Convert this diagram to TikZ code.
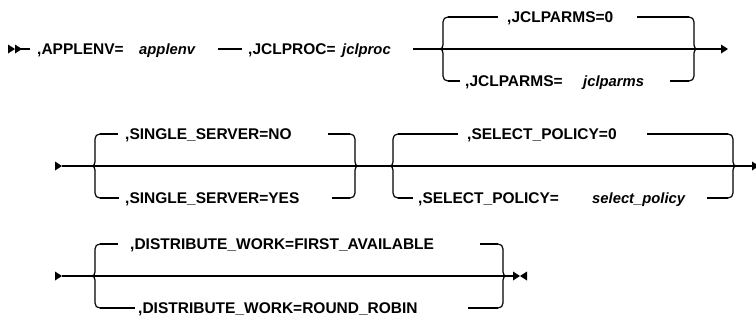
\documentclass[tikz,border=0pt]{standalone}
\usepackage{fontspec}
\setmainfont{Liberation Sans}
\begin{document}
\begin{tikzpicture}[x=1pt,y=-1pt,
  rail/.style={line width=1.2pt},
  kw/.style={anchor=base west,inner sep=0pt,font=\fontsize{15.5}{18}\selectfont\bfseries},
  var/.style={kw,font=\fontsize{14.8}{18}\selectfont\bfseries\itshape}]
\useasboundingbox (0,0) rectangle (756,327);
% ---------- helpers ----------
\newcommand{\leftbrk}[4]{% #1 cusp x, #2 top, #3 main, #4 bottom
  \draw[rail] (#1+8,#2) .. controls (#1+5,#2) and (#1+3,#2+2) .. (#1+3,#2+5)
    -- (#1+3,#3-4) .. controls (#1+3,#3-1.5) and (#1+1.5,#3) .. (#1,#3)
    .. controls (#1+1.5,#3) and (#1+3,#3+1.5) .. (#1+3,#3+4)
    -- (#1+3,#4-5) .. controls (#1+3,#4-2) and (#1+5,#4) .. (#1+8,#4);}
\newcommand{\rightbrk}[4]{% #1 cusp x
  \draw[rail] (#1-8,#2) .. controls (#1-5,#2) and (#1-3,#2+2) .. (#1-3,#2+5)
    -- (#1-3,#3-4) .. controls (#1-3,#3-1.5) and (#1-1.5,#3) .. (#1,#3)
    .. controls (#1-1.5,#3) and (#1-3,#3+1.5) .. (#1-3,#3+4)
    -- (#1-3,#4-5) .. controls (#1-3,#4-2) and (#1-5,#4) .. (#1-8,#4);}
\newcommand{\rtri}[2]{\fill (#1,#2-4.5) -- (#1+7,#2) -- (#1,#2+4.5) -- cycle;}
\newcommand{\ltri}[2]{\fill (#1,#2-4.5) -- (#1-7,#2) -- (#1,#2+4.5) -- cycle;}
% ================= Row 1 =================
\rtri{8}{49}\rtri{15}{49}
\coordinate (s1) at (15,49);
\coordinate (s1e) at (30,49);
\draw[rail] (s1) -- (s1e);
\node[kw]  (applenvk) at (37,54.6) {,APPLENV=};
\node[var] (applenvv) at (139,54.6) {applenv};
\coordinate (a1) at (218,49);
\coordinate (a2) at (242,49);
\draw[rail] (a1) -- (a2);
\node[kw]  (jclprock) at (248,54.6) {,JCLPROC=};
\node[var] (jclprocv) at (342,54.6) {jclproc};
\coordinate (b1) at (413,49);
\coordinate (L1) at (440,49);
\coordinate (R1) at (697,49);
\coordinate (E1) at (721,49);
\draw[rail] (b1) -- (L1) -- (R1) -- (E1);
\rtri{721}{49}
\leftbrk{440}{17}{49}{81}
\rightbrk{697}{17}{49}{81}
\coordinate (u1a) at (448,17); \coordinate (u1b) at (498,17);
\coordinate (u1c) at (637,17); \coordinate (u1d) at (689,17);
\draw[rail] (u1a) -- (u1b); \draw[rail] (u1c) -- (u1d);
\node[kw] (jp0) at (507,22.6) {,JCLPARMS=0};
\coordinate (d1a) at (448,81); \coordinate (d1b) at (460,81);
\coordinate (d1c) at (670,81); \coordinate (d1d) at (689,81);
\draw[rail] (d1a) -- (d1b); \draw[rail] (d1c) -- (d1d);
\node[kw]  (jpk) at (465,86.6) {,JCLPARMS=};
\node[var] (jpv) at (583,86.6) {jclparms};
% ================= Row 2 =================
\rtri{55}{166}
\coordinate (s2) at (62,166);
\coordinate (L2) at (92,166);
\coordinate (R2) at (358,166);
\coordinate (L3) at (390,166);
\coordinate (R3) at (736,166);
\coordinate (E2) at (752,166);
\draw[rail] (s2) -- (L2) -- (R2) -- (L3) -- (R3) -- (E2);
\rtri{752}{166}
\leftbrk{92}{134}{166}{198}
\rightbrk{358}{134}{166}{198}
\coordinate (u2a) at (100,134); \coordinate (u2b) at (118,134);
\coordinate (u2c) at (328,134); \coordinate (u2d) at (350,134);
\draw[rail] (u2a) -- (u2b); \draw[rail] (u2c) -- (u2d);
\node[kw] (ssno) at (125,139.6) {,SINGLE\_SERVER=NO};
\coordinate (d2a) at (100,198); \coordinate (d2b) at (119,198);
\coordinate (d2c) at (332,198); \coordinate (d2d) at (350,198);
\draw[rail] (d2a) -- (d2b); \draw[rail] (d2c) -- (d2d);
\node[kw] (ssyes) at (125,203.6) {,SINGLE\_SERVER=YES};
\leftbrk{390}{134}{166}{198}
\rightbrk{736}{134}{166}{198}
\coordinate (u3a) at (398,134); \coordinate (u3b) at (458,134);
\coordinate (u3c) at (647,134); \coordinate (u3d) at (728,134);
\draw[rail] (u3a) -- (u3b); \draw[rail] (u3c) -- (u3d);
\node[kw] (sp0) at (467,139.6) {,SELECT\_POLICY=0};
\coordinate (d3a) at (398,198); \coordinate (d3b) at (413,198);
\coordinate (d3c) at (707,198); \coordinate (d3d) at (728,198);
\draw[rail] (d3a) -- (d3b); \draw[rail] (d3c) -- (d3d);
\node[kw]  (spk) at (418,203.6) {,SELECT\_POLICY=};
\node[var] (spv) at (592,203.6) {select\_policy};
% ================= Row 3 =================
\rtri{55}{276}
\coordinate (s3) at (62,276);
\coordinate (L4) at (92,276);
\coordinate (R4) at (506,276);
\coordinate (E3) at (513,276);
\draw[rail] (s3) -- (L4) -- (R4) -- (E3);
\rtri{513}{276}\ltri{527}{276}
\leftbrk{92}{244}{276}{308}
\rightbrk{506}{244}{276}{308}
\coordinate (u4a) at (100,244); \coordinate (u4b) at (118,244);
\coordinate (u4c) at (480,244); \coordinate (u4d) at (498,244);
\draw[rail] (u4a) -- (u4b); \draw[rail] (u4c) -- (u4d);
\node[kw] (dwf) at (130,249.6) {,DISTRIBUTE\_WORK=FIRST\_AVAILABLE};
\coordinate (d4a) at (100,308); \coordinate (d4b) at (135,308);
\coordinate (d4c) at (468,308); \coordinate (d4d) at (498,308);
\draw[rail] (d4a) -- (d4b); \draw[rail] (d4c) -- (d4d);
\node[kw] (dwr) at (138,313.6) {,DISTRIBUTE\_WORK=ROUND\_ROBIN};
\end{tikzpicture}
\end{document}
